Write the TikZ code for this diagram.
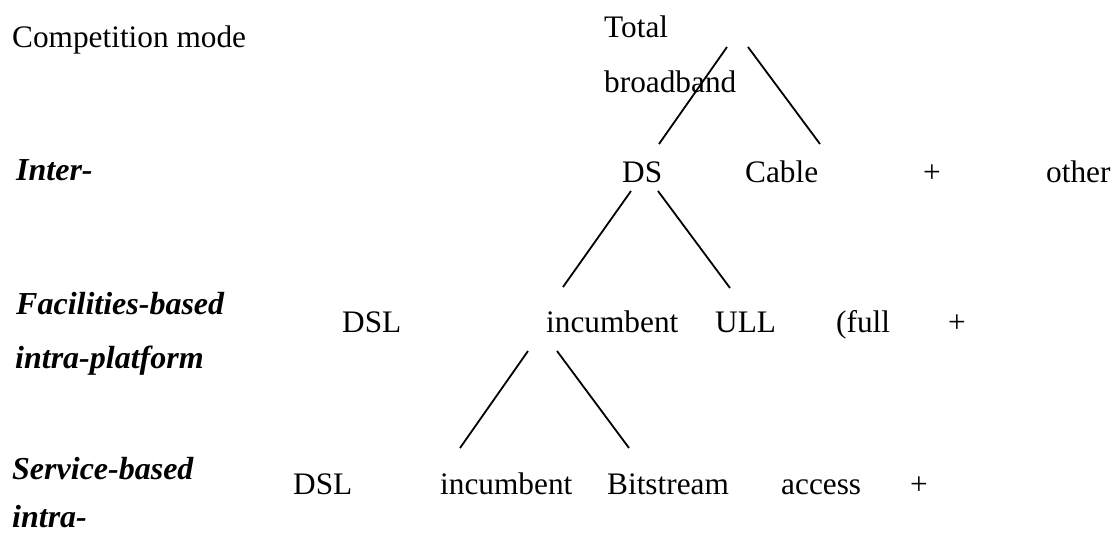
\documentclass[tikz,border=0pt]{standalone}
\usepackage{fontspec}
\setmainfont{Liberation Serif}
\begin{document}
\begin{tikzpicture}[x=1pt,y=-1pt,
  lbl/.style={anchor=base west,inner sep=0pt,font=\fontsize{31.3}{36}\selectfont},
  mode/.style={anchor=base west,inner sep=0pt,font=\fontsize{32}{38}\selectfont\bfseries\itshape},
  plus/.style={anchor=base,inner sep=0pt,font=\fontsize{31.3}{36}\selectfont},
  branch/.style={line width=1.8pt}]
\useasboundingbox (0,0) rectangle (1114,536);

% left column: competition modes
\node[lbl]  (title) at (12,47)  {Competition mode};
\node[mode] (inter) at (16,180) {Inter-};
\node[mode] (fac1)  at (16,314) {Facilities-based};
\node[mode] (fac2)  at (15,368) {intra-platform};
\node[mode] (srv1)  at (12,479) {Service-based};
\node[mode] (srv2)  at (12,527) {intra-};

% root
\node[lbl] (total) at (604,37) {Total};
\node[lbl] (bb)    at (604,92) {broadband};

% first level
\node[lbl]  (ds)    at (622,182)  {DS};
\node[lbl]  (cable) at (745,182)  {Cable};
\node[plus] (p1)    at (932,182)  {+};
\node[lbl]  (other) at (1046,182) {other};

% second level
\node[lbl]  (dsl1)  at (342,332) {DSL};
\node[lbl]  (inc1)  at (546,332) {incumbent};
\node[lbl]  (ull)   at (715,332) {ULL};
\node[lbl]  (full)  at (836,332) {(full};
\node[plus] (p2)    at (957,332) {+};

% third level
\node[lbl]  (dsl2)  at (293,494) {DSL};
\node[lbl]  (inc2)  at (440,494) {incumbent};
\node[lbl]  (bits)  at (607,494) {Bitstream};
\node[lbl]  (acc)   at (781,494) {access};
\node[plus] (p3)    at (919,494) {+};

% branch end points
\coordinate (rootL) at (727,47);
\coordinate (rootR) at (748,47);
\coordinate (dsTop) at (659,144);
\coordinate (cbTop) at (820,144);
\coordinate (dsL)   at (631,191);
\coordinate (dsR)   at (658,191);
\coordinate (incTop) at (563,287);
\coordinate (ullTop) at (730,288);
\coordinate (incL)  at (528,351);
\coordinate (incR)  at (557,351);
\coordinate (inc2Top) at (460,448);
\coordinate (bitsTop) at (629,448);

\draw[branch] (rootL) -- (dsTop);
\draw[branch] (rootR) -- (cbTop);
\draw[branch] (dsL) -- (incTop);
\draw[branch] (dsR) -- (ullTop);
\draw[branch] (incL) -- (inc2Top);
\draw[branch] (incR) -- (bitsTop);
\end{tikzpicture}
\end{document}
